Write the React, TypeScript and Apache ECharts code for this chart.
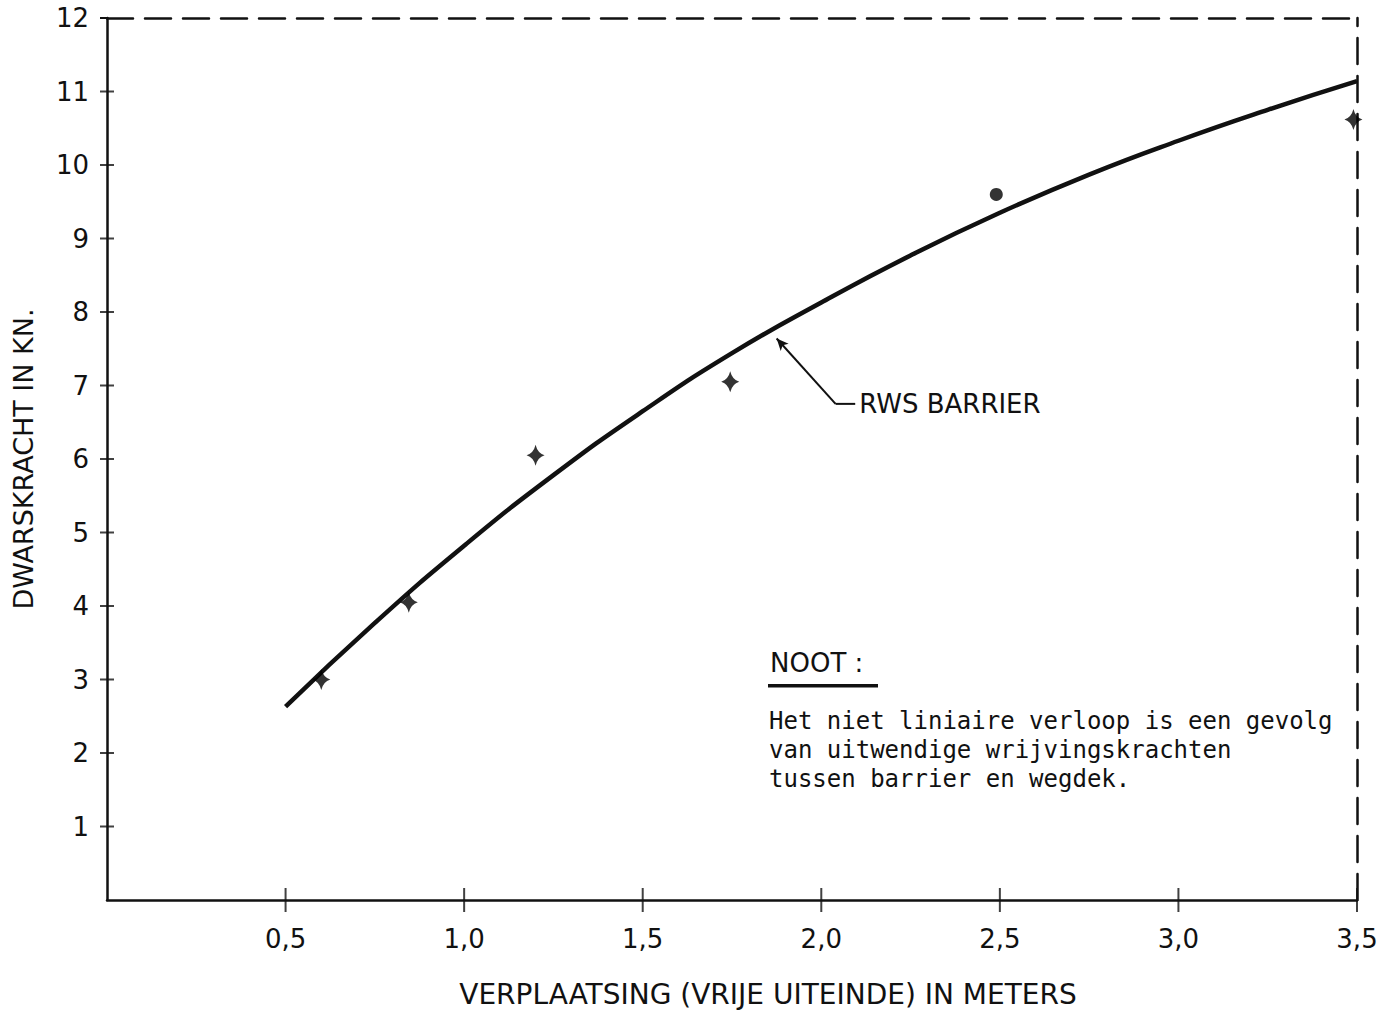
import React, { useEffect, useRef } from "react";
import * as echarts from "echarts";

// Fitted curve "RWS BARRIER" (x in m, y in kN)
const curveX = [0.5, 0.75, 1.0, 1.25, 1.5, 1.75, 2.0, 2.25, 2.5, 2.75, 3.0, 3.25, 3.5];
const curveY = [2.63, 3.77, 4.82, 5.78, 6.65, 7.44, 8.13, 8.77, 9.35, 9.87, 10.33, 10.75, 11.14];

// Measured points
const measX = [0.6, 0.845, 1.2, 1.745, 2.49, 3.49];
const measY = [3.0, 4.05, 6.05, 7.05, 9.6, 10.62];
const measShape = ["star", "star", "star", "star", "circle", "star"];

// Tick positions
const xTicks = [0.5, 1.0, 1.5, 2.0, 2.5, 3.0, 3.5];
const yTicks = [1, 2, 3, 4, 5, 6, 7, 8, 9, 10, 11];

// Leader line for the curve label
const leaderX = [2.04, 2.095];
const leaderY = [6.75, 6.75];
const leaderArrowFrom = [2.04, 6.75];
const leaderArrowTo = [1.875, 7.64];

const xTitle = "VERPLAATSING (VRIJE UITEINDE) IN METERS";
const yTitle = "DWARSKRACHT IN KN.";
const curveLabel = "RWS BARRIER";
const noteTitle = "NOOT :";
const noteLines = [
  "Het niet liniaire verloop is een gevolg",
  "van uitwendige wrijvingskrachten",
  "tussen barrier en wegdek.",
];

const FONT = "DejaVu Sans";
const NOTE_FONT = "DejaVu Sans Mono";
const INK = "#111";
const STAR = "path://M0,-10 Q2,-2 9,0 Q2,2 0,10 Q-2,2 -9,0 Q-2,-2 0,-10 Z";

export default function App() {
  const ref = useRef<HTMLDivElement>(null);
  useEffect(() => {
    if (!ref.current) return;
    const chart = echarts.init(ref.current, null, { renderer: "svg" });
    const xCommon = { type: "value", min: 0, max: 3.5, interval: 0.5 };
    const yCommon = { type: "value", min: 0, max: 12, interval: 1 };
    const hidden = { show: false };
    chart.setOption({
      animation: false,
      backgroundColor: "#fff",
      textStyle: { fontFamily: FONT, color: INK },
      grid: { left: 107, right: 25, top: 18, bottom: 111 },
      xAxis: [
        {
          ...xCommon,
          position: "bottom",
          axisLine: { show: true, onZero: false, lineStyle: { color: INK, width: 2.5 } },
          axisTick: { show: false },
          axisLabel: {
            margin: 26,
            fontSize: 26,
            color: INK,
            fontFamily: FONT,
            customValues: xTicks,
            formatter: (v: number) => v.toFixed(1).replace(".", ","),
          },
          splitLine: hidden,
          name: xTitle,
          nameLocation: "middle",
          nameGap: 80,
          nameTextStyle: { fontSize: 28, color: INK, fontFamily: FONT, padding: [0, 0, 0, 72] },
        },
        {
          ...xCommon,
          position: "top",
          axisLine: { show: true, onZero: false, lineStyle: { color: INK, width: 2.5, type: [26, 12] } },
          axisTick: hidden,
          axisLabel: hidden,
          splitLine: hidden,
        },
      ],
      yAxis: [
        {
          ...yCommon,
          position: "left",
          axisLine: { show: true, onZero: false, lineStyle: { color: INK, width: 2.5 } },
          axisTick: {
            show: true,
            inside: false,
            length: 7,
            customValues: [12],
            lineStyle: { color: INK, width: 2 },
          },
          axisLabel: {
            margin: 18,
            fontSize: 26,
            color: INK,
            fontFamily: FONT,
            customValues: [...yTicks, 12],
            formatter: (v: number) => String(v),
          },
          splitLine: hidden,
          name: yTitle,
          nameLocation: "middle",
          nameGap: 70,
          nameRotate: 90,
          nameTextStyle: { fontSize: 27, color: INK, fontFamily: FONT },
        },
        {
          ...yCommon,
          position: "right",
          axisLine: { show: true, onZero: false, lineStyle: { color: INK, width: 2.5, type: [26, 12] } },
          axisTick: hidden,
          axisLabel: hidden,
          splitLine: hidden,
        },
      ],
      series: [
        {
          name: curveLabel,
          type: "line",
          smooth: true,
          showSymbol: false,
          lineStyle: { color: INK, width: 4.5 },
          data: curveX.map((x, i) => [x, curveY[i]]),
          z: 3,
        },
        {
          name: "meting",
          type: "scatter",
          data: measX.map((x, i) => ({
            value: [x, measY[i]],
            symbol: measShape[i] === "circle" ? "circle" : STAR,
            symbolSize: measShape[i] === "circle" ? 13 : [18, 21],
          })),
          itemStyle: { color: "#000" },
          z: 4,
        },
        {
          name: "x-ticks",
          type: "scatter",
          clip: false,
          silent: true,
          symbol: "rect",
          symbolSize: [2, 24],
          itemStyle: { color: INK },
          data: xTicks.map((v) => [v, 0]),
          z: 5,
        },
        {
          name: "y-ticks",
          type: "scatter",
          clip: false,
          silent: true,
          symbol: "rect",
          symbolSize: [14, 2],
          itemStyle: { color: INK },
          data: yTicks.map((v) => [0, v]),
          z: 5,
        },
        {
          name: "leader",
          type: "line",
          showSymbol: false,
          symbol: "none",
          lineStyle: { color: INK, width: 2 },
          data: leaderX.map((x, i) => [x, leaderY[i]]),
          endLabel: {
            show: true,
            formatter: curveLabel,
            fontSize: 26,
            color: INK,
            fontFamily: FONT,
            distance: 4,
          },
          markLine: {
            silent: true,
            symbol: ["none", "arrow"],
            symbolSize: [8, 12],
            label: { show: false },
            lineStyle: { color: INK, width: 2, type: "solid" },
            data: [[{ coord: leaderArrowFrom }, { coord: leaderArrowTo }]],
          },
        },
      ],
      graphic: [
        {
          type: "text",
          left: 770,
          top: 650,
          style: { text: noteTitle, fontSize: 26, fill: INK, fontFamily: FONT },
        },
        {
          type: "rect",
          shape: { x: 768, y: 684, width: 110, height: 3.5 },
          style: { fill: INK },
        },
        {
          type: "text",
          left: 769,
          top: 706,
          style: {
            text: noteLines.join("\n"),
            fontSize: 24,
            lineHeight: 29,
            fill: INK,
            fontFamily: NOTE_FONT,
          },
        },
      ],
    });
    return () => chart.dispose();
  }, []);
  return (
    <div
      ref={ref}
      style={{ position: "fixed", left: 0, top: 0, width: 1382, height: 1013, background: "#fff" }}
    />
  );
}
